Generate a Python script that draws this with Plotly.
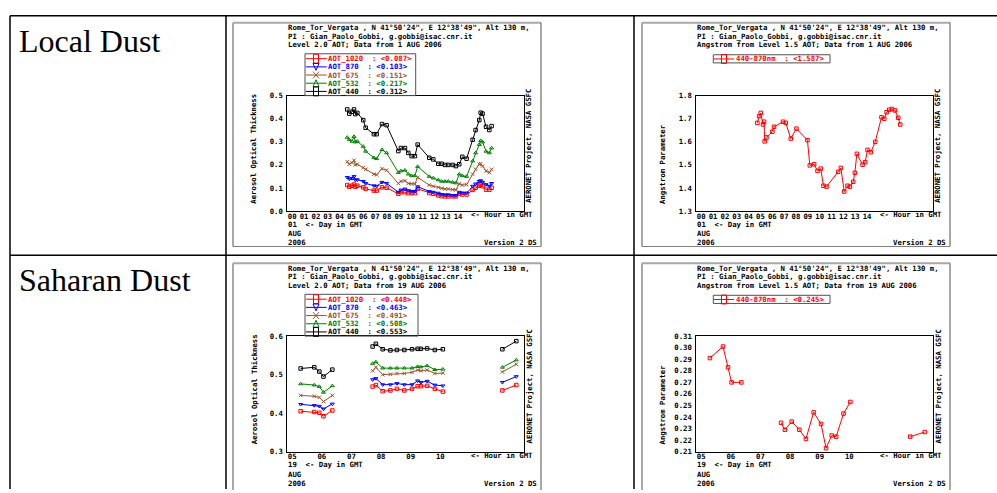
import plotly.graph_objects as go

W, H = 997, 493
FONT = "DejaVu Sans Mono"
FS = 7.3

# ---------------- data ----------------
row_labels = ["Local Dust", "Saharan Dust"]
aot_names = ["AOT_1020", "AOT_870", "AOT_675", "AOT_532", "AOT_440"]
aot_colors = ["#ff0000", "#0000ff", "#a0522d", "#008000", "#000000"]
aot_symbols = ["square-open", "triangle-down-open", "x-thin-open", "triangle-up-open", "square-open"]

local_legend_vals = ["0.087", "0.103", "0.151", "0.217", "0.312"]
sahara_legend_vals = ["0.448", "0.463", "0.491", "0.508", "0.553"]
local_ang_legend = "1.587"
sahara_ang_legend = "0.245"

local_hours = [5.06, 5.23, 5.46, 5.63, 5.74, 5.91, 6.41, 6.61, 7.31, 7.54, 7.99, 8.38,
               9.37, 9.59, 9.93, 10.21, 10.49, 10.77, 11.0, 11.98, 12.32, 12.74, 13.02,
               13.31, 13.59, 13.95, 14.23, 14.51, 14.77, 15.13, 15.64, 15.89, 16.2, 16.32,
               16.48, 16.77, 17.05, 17.24]
local_aot_440 = [0.44, 0.422, 0.43, 0.44, 0.42, 0.425, 0.394, 0.361, 0.333, 0.333, 0.377, 0.372,
                 0.26, 0.273, 0.273, 0.252, 0.238, 0.238, 0.288, 0.231, 0.224, 0.205, 0.205,
                 0.2, 0.2, 0.2, 0.195, 0.203, 0.235, 0.227, 0.309, 0.351, 0.394, 0.426,
                 0.422, 0.365, 0.351, 0.368]
local_aot_532 = [0.319, 0.309, 0.302, 0.323, 0.299, 0.302, 0.28, 0.259, 0.231, 0.227, 0.266, 0.252,
                 0.167, 0.174, 0.177, 0.16, 0.153, 0.153, 0.193, 0.15, 0.143, 0.135, 0.129,
                 0.129, 0.129, 0.125, 0.122, 0.16, 0.153, 0.15, 0.217, 0.252, 0.288, 0.305,
                 0.299, 0.259, 0.252, 0.273]
local_aot_675 = [0.214, 0.203, 0.21, 0.22, 0.2, 0.203, 0.188, 0.181, 0.16, 0.157, 0.184, 0.177,
                 0.12, 0.129, 0.132, 0.12, 0.118, 0.118, 0.146, 0.113, 0.108, 0.103, 0.099,
                 0.096, 0.096, 0.093, 0.092, 0.118, 0.113, 0.115, 0.16, 0.181, 0.203, 0.205,
                 0.195, 0.174, 0.167, 0.181]
local_aot_870 = [0.146, 0.139, 0.142, 0.15, 0.135, 0.136, 0.129, 0.12, 0.11, 0.108, 0.125, 0.12,
                 0.082, 0.092, 0.096, 0.089, 0.086, 0.086, 0.106, 0.085, 0.082, 0.078, 0.072,
                 0.071, 0.071, 0.068, 0.068, 0.082, 0.079, 0.079, 0.108, 0.118, 0.129, 0.132,
                 0.125, 0.115, 0.108, 0.12]
local_aot_1020 = [0.113, 0.106, 0.11, 0.115, 0.106, 0.11, 0.103, 0.096, 0.089, 0.089, 0.103, 0.101,
                  0.075, 0.082, 0.082, 0.078, 0.078, 0.078, 0.096, 0.078, 0.075, 0.068, 0.065,
                  0.064, 0.064, 0.064, 0.064, 0.075, 0.072, 0.072, 0.092, 0.101, 0.11, 0.115,
                  0.108, 0.093, 0.093, 0.101]

local_ang_hours = [5.15, 5.3, 5.44, 5.63, 5.72, 5.77, 5.92, 6.42, 6.56, 7.32, 7.55, 7.97, 8.45,
                   9.38, 9.58, 9.94, 10.23, 10.5, 10.73, 10.99, 11.97, 12.2, 12.48, 12.76,
                   12.96, 13.24, 13.38, 13.55, 14.03, 14.25, 14.45, 14.73, 15.1, 15.63, 15.86,
                   16.06, 16.28, 16.51, 16.76, 17.04, 17.21]
local_ang = [1.682, 1.711, 1.725, 1.675, 1.687, 1.602, 1.619, 1.644, 1.665, 1.687, 1.682, 1.614,
             1.657, 1.607, 1.498, 1.503, 1.474, 1.484, 1.41, 1.406, 1.47, 1.487, 1.385, 1.41,
             1.406, 1.427, 1.466, 1.548, 1.501, 1.512, 1.565, 1.555, 1.6, 1.706, 1.7, 1.728,
             1.739, 1.742, 1.736, 1.704, 1.675]

sahara_hours = [5.45, 5.91, 6.08, 6.22, 6.52, None, 7.88, 7.99, 8.22, 8.48, 8.7, 8.95, 9.21,
                9.4, 9.51, 9.72, 9.98, 10.25, None, 12.26, 12.73]
sahara_aot_440 = [0.516, 0.519, 0.508, 0.495, 0.513, None, 0.573, 0.58, 0.566, 0.563, 0.564, 0.564,
                  0.566, 0.567, 0.567, 0.568, 0.564, 0.566, None, 0.566, 0.587]
sahara_aot_532 = [0.476, 0.473, 0.469, 0.454, 0.471, None, 0.529, 0.533, 0.517, 0.517, 0.517, 0.517,
                  0.517, 0.521, 0.52, 0.523, 0.513, 0.514, None, 0.519, 0.538]
sahara_aot_675 = [0.446, 0.444, 0.441, 0.43, 0.446, None, 0.51, 0.519, 0.5, 0.501, 0.503, 0.503,
                  0.506, 0.512, 0.51, 0.512, 0.503, 0.504, None, 0.507, 0.527]
sahara_aot_870 = [0.423, 0.42, 0.418, 0.411, 0.424, None, 0.487, 0.49, 0.474, 0.474, 0.477, 0.474,
                  0.474, 0.484, 0.48, 0.483, 0.473, 0.471, None, 0.48, 0.495]
sahara_aot_1020 = [0.405, 0.403, 0.401, 0.392, 0.407, None, 0.469, 0.473, 0.457, 0.459, 0.463, 0.459,
                   0.463, 0.47, 0.47, 0.471, 0.463, 0.456, None, 0.459, 0.473]

sahara_ang_hours = [5.46, 5.9, 6.07, 6.19, 6.52, None, 7.86, 7.99, 8.22, 8.48, 8.7, 8.96, 9.21,
                    9.38, 9.57, 9.72, 9.97, 10.2, None, 12.22, 12.71]
sahara_ang = [0.291, 0.301, 0.283, 0.27, 0.27, None, 0.235, 0.229, 0.236, 0.229, 0.221, 0.244,
              0.234, 0.213, 0.224, 0.223, 0.243, 0.253, None, 0.223, 0.227]

local_ticks = list(range(0, 15))
sahara_ticks = list(range(5, 11))

# ---------------- helpers ----------------
def fx(x):
    return x / W


def fy(y):
    return 1 - y / H


shapes = []
anns = []


def nb(s):
    return s.replace("  ", "\u00a0\u00a0")


def text(x, y, s, color="black", anchor="left", angle=0, size=FS, family=FONT, bold=True):
    anns.append(dict(x=fx(x), y=fy(y), xref="paper", yref="paper", text=nb(s),
                     showarrow=False, xanchor=anchor, yanchor="middle", textangle=angle,
                     borderpad=0,
                     font=dict(family=family, size=size, color=color,
                               weight="bold" if bold else "normal")))


def line(x0, y0, x1, y1, color="black", width=1.0):
    shapes.append(dict(type="line", xref="paper", yref="paper", layer="above",
                       x0=fx(x0), y0=fy(y0), x1=fx(x1), y1=fy(y1),
                       line=dict(color=color, width=width)))


def rect(x0, y0, x1, y1, color="black", width=1.0):
    shapes.append(dict(type="rect", xref="paper", yref="paper", layer="above",
                       x0=fx(x0), y0=fy(y0), x1=fx(x1), y1=fy(y1),
                       line=dict(color=color, width=width)))


def path(pts, color, width=1.0, close=True):
    d = "M " + " L ".join(f"{fx(x):.5f},{fy(y):.5f}" for x, y in pts)
    if close:
        d += " Z"
    shapes.append(dict(type="path", xref="paper", yref="paper", layer="above", path=d,
                       line=dict(color=color, width=width)))


def legend_symbol(kind, cx, cy, color):
    if kind == "square-open":
        rect(cx - 2.5, cy - 4.5, cx + 2.5, cy + 4.5, color)
    elif kind == "triangle-down-open":
        path([(cx - 3, cy - 3.5), (cx + 3, cy - 3.5), (cx, cy + 3.5)], color)
    elif kind == "triangle-up-open":
        path([(cx - 3, cy + 3.5), (cx + 3, cy + 3.5), (cx, cy - 3.5)], color)
    else:
        line(cx - 3, cy - 3.5, cx + 3, cy + 3.5, color)
        line(cx - 3, cy + 3.5, cx + 3, cy - 3.5, color)


fig = go.Figure()
axes = {}

PL, PR, PT, PB = 54.3, 291.3, 74.3, 192.0
FW = 308

AX_FONT = dict(family=FONT, size=FS, color="black", weight="bold")


def panel(n, x0, y0, bottom_cut, xrange, xticks, yrange, dtick, fmt, series, legend_rows,
          legend_right, ytitle, line3, day):
    sfx = "" if n == 1 else str(n)
    axes["xaxis" + sfx] = dict(domain=[fx(x0 + PL), fx(x0 + PR)], range=xrange,
                               tickvals=xticks, ticktext=[f"{t:02d}" for t in xticks],
                               ticklabelposition="outside right", tickangle=0,
                               anchor="y" + sfx,
                               showline=True, mirror=True, linecolor="black", linewidth=1,
                               ticks="", showgrid=False, zeroline=False, tickfont=AX_FONT,
                               ticklabelstandoff=-2, fixedrange=True)
    axes["yaxis" + sfx] = dict(domain=[fy(y0 + PB), fy(y0 + PT)], range=yrange,
                               tick0=yrange[0], dtick=dtick, tickformat=fmt,
                               anchor="x" + sfx, showline=True, mirror=True,
                               linecolor="black", linewidth=1, ticks="", showgrid=False,
                               zeroline=False, tickfont=AX_FONT, ticklabelstandoff=2,
                               fixedrange=True)
    for xs, ys, color, sym in series:
        fig.add_trace(go.Scatter(x=xs, y=ys, xaxis="x" + sfx, yaxis="y" + sfx,
                                 mode="lines+markers", connectgaps=False,
                                 line=dict(color=color, width=1),
                                 marker=dict(symbol=sym, size=3.5, color=color,
                                             line=dict(color=color, width=1)),
                                 showlegend=False, hoverinfo="skip"))
    # frame
    fb = y0 + 228 if not bottom_cut else H + 2
    line(x0, y0, x0 + FW, y0, "#a8a8a8", 2)
    line(x0, y0, x0, fb, "#a8a8a8", 2)
    line(x0 + FW, y0, x0 + FW, fb, "#505050", 1)
    if not bottom_cut:
        line(x0, fb, x0 + FW, fb, "#808080", 1)
    # header
    hx = x0 + 53.7
    text(hx, y0 + 5.0, "Rome_Tor_Vergata , N 41\u00b050'24\", E 12\u00b038'49\", Alt 130 m,")
    text(hx, y0 + 13.7, "PI : Gian_Paolo_Gobbi, g.gobbi@isac.cnr.it")
    text(hx, y0 + 22.7, line3)
    # legend
    if len(legend_rows) > 1:
        rect(x0 + 72, y0 + 31.7, x0 + legend_right, y0 + PT, "#505050", 1)
        lx0, lx1, mx, tx = 73, 93.7, 83, 94.3
    else:
        rect(x0 + 71.3, y0 + 32.7, x0 + legend_right, y0 + 41, "#505050", 1)
        lx0, lx1, mx, tx = 72, 92, 82, 93
    for i, (label, color, sym) in enumerate(legend_rows):
        ry = y0 + (36.7 + 8.33 * i if len(legend_rows) > 1 else 37)
        line(x0 + lx0, ry, x0 + lx1, ry, color, 1)
        legend_symbol(sym, x0 + mx, ry, color)
        text(x0 + tx, ry, label, color=color)
    # titles
    tlen = len(ytitle) * 4.45
    text(x0 + 21.0, y0 + 184 - tlen / 2, ytitle, anchor="center", angle=-90)
    text(x0 + 296.0, y0 + 125.5, "AERONET Project, NASA GSFC", anchor="center", angle=-90)
    text(x0 + 237.0, y0 + 195.6, "<- Hour in GMT")
    text(x0 + 54.3, y0 + 205.3, f"{day}  <- Day in GMT")
    text(x0 + 54.3, y0 + 215.0, "AUG")
    text(x0 + 54.3, y0 + 224.4, "2006")
    text(x0 + 305.0, y0 + 224.4, "Version 2 DS", anchor="right")


local_series = [(local_hours, local_aot_1020, aot_colors[0], aot_symbols[0]),
                (local_hours, local_aot_870, aot_colors[1], aot_symbols[1]),
                (local_hours, local_aot_675, aot_colors[2], aot_symbols[2]),
                (local_hours, local_aot_532, aot_colors[3], aot_symbols[3]),
                (local_hours, local_aot_440, aot_colors[4], aot_symbols[4])]
sahara_series = [(sahara_hours, sahara_aot_1020, aot_colors[0], aot_symbols[0]),
                 (sahara_hours, sahara_aot_870, aot_colors[1], aot_symbols[1]),
                 (sahara_hours, sahara_aot_675, aot_colors[2], aot_symbols[2]),
                 (sahara_hours, sahara_aot_532, aot_colors[3], aot_symbols[3]),
                 (sahara_hours, sahara_aot_440, aot_colors[4], aot_symbols[4])]

local_leg = [(f"{n}  : <{v}>", c, s) for n, v, c, s in
             zip(aot_names, local_legend_vals, aot_colors, aot_symbols)]
sahara_leg = [(f"{n}  : <{v}>", c, s) for n, v, c, s in
              zip(aot_names, sahara_legend_vals, aot_colors, aot_symbols)]

panel(1, 233, 19, False, [0, 20], local_ticks, [0, 0.5], 0.1, ".1f", local_series,
      local_leg, 182.7, "Aerosol Optical Thickness",
      "Level 2.0 AOT; Data from 1 AUG 2006", "01")
panel(2, 642, 19, False, [0, 20], local_ticks, [1.3, 1.8], 0.1, ".1f",
      [(local_ang_hours, local_ang, "#ff0000", "square-open")],
      [(f"440-870nm  : <{local_ang_legend}>", "#ff0000", "square-open")], 188,
      "Angstrom Parameter", "Angstrom from Level 1.5 AOT; Data from 1 AUG 2006", "01")
panel(3, 233, 264, True, [5, 13], sahara_ticks, [0.3, 0.6], 0.1, ".1f", sahara_series,
      sahara_leg, 185, "Aerosol Optical Thickness",
      "Level 2.0 AOT; Data from 19 AUG 2006", "19")
panel(4, 642, 264, True, [5, 13], sahara_ticks, [0.21, 0.31], 0.01, ".2f",
      [(sahara_ang_hours, sahara_ang, "#ff0000", "square-open")],
      [(f"440-870nm  : <{sahara_ang_legend}>", "#ff0000", "square-open")], 188,
      "Angstrom Parameter", "Angstrom from Level 1.5 AOT; Data from 19 AUG 2006", "19")

# table grid
line(10, 12, 997, 12, "black", 1.5)
line(10, 256, 997, 256, "black", 1.5)
line(10, 12, 10, 494, "black", 1.5)
line(226, 12, 226, 494, "black", 1.5)
line(634, 12, 634, 494, "black", 1.5)

# row labels
text(17.5, 37.5, row_labels[0], family="Liberation Serif", size=32, bold=False)
text(17.5, 281.5, row_labels[1], family="Liberation Serif", size=32, bold=False)

fig.update_layout(width=W, height=H, margin=dict(l=0, r=0, t=0, b=0),
                  paper_bgcolor="white", plot_bgcolor="white",
                  shapes=shapes, annotations=anns, showlegend=False, **axes)

fig.write_html("out.html", config={"displayModeBar": False},
               post_script="document.body.style.margin='0';"
                           "document.body.style.overflow='hidden';")
